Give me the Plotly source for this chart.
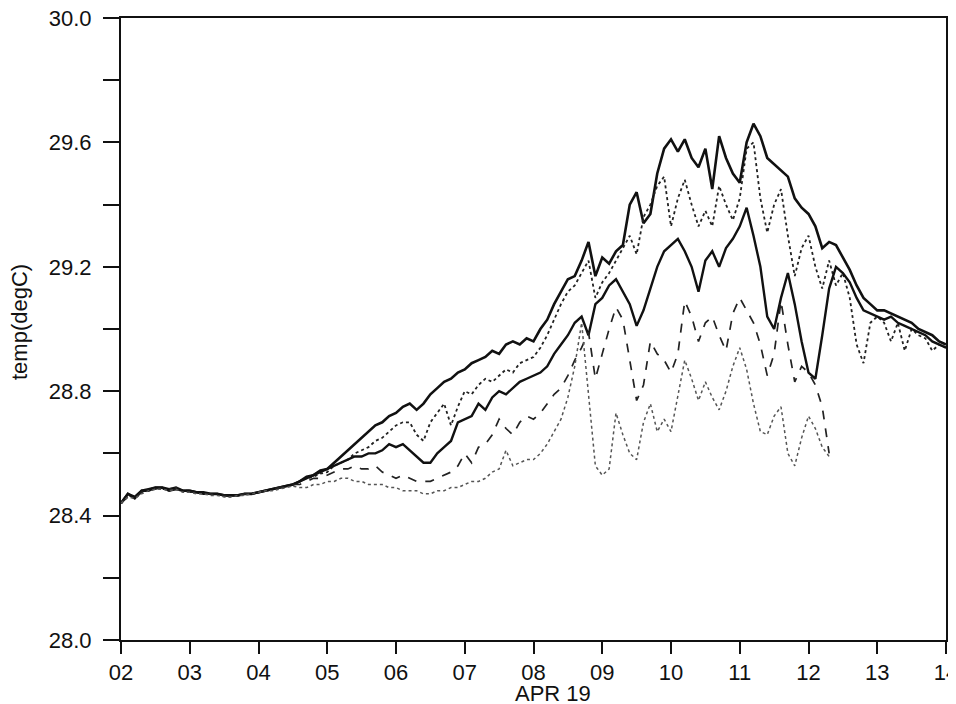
import plotly.graph_objects as go

# time samples (day of April), every 0.1 day
days = [2.0, 2.1, 2.2, 2.3, 2.4, 2.5, 2.6, 2.7, 2.8, 2.9,
        3.0, 3.1, 3.2, 3.3, 3.4, 3.5, 3.6, 3.7, 3.8, 3.9,
        4.0, 4.1, 4.2, 4.3, 4.4, 4.5, 4.6, 4.7, 4.8, 4.9,
        5.0, 5.1, 5.2, 5.3, 5.4, 5.5, 5.6, 5.7, 5.8, 5.9,
        6.0, 6.1, 6.2, 6.3, 6.4, 6.5, 6.6, 6.7, 6.8, 6.9,
        7.0, 7.1, 7.2, 7.3, 7.4, 7.5, 7.6, 7.7, 7.8, 7.9,
        8.0, 8.1, 8.2, 8.3, 8.4, 8.5, 8.6, 8.7, 8.8, 8.9,
        9.0, 9.1, 9.2, 9.3, 9.4, 9.5, 9.6, 9.7, 9.8, 9.9,
        10.0, 10.1, 10.2, 10.3, 10.4, 10.5, 10.6, 10.7, 10.8, 10.9,
        11.0, 11.1, 11.2, 11.3, 11.4, 11.5, 11.6, 11.7, 11.8, 11.9,
        12.0, 12.1, 12.2, 12.3, 12.4, 12.5, 12.6, 12.7, 12.8, 12.9,
        13.0, 13.1, 13.2, 13.3, 13.4, 13.5, 13.6, 13.7, 13.8, 13.9,
        14.0]

temp_1 = [28.44, 28.47, 28.46, 28.48, 28.485, 28.49, 28.49, 28.485, 28.49, 28.48,
          28.48, 28.475, 28.475, 28.47, 28.47, 28.465, 28.465, 28.465, 28.47, 28.47,
          28.475, 28.48, 28.485, 28.49, 28.495, 28.50, 28.51, 28.525, 28.53, 28.545,
          28.55, 28.57, 28.59, 28.61, 28.63, 28.65, 28.67, 28.69, 28.70, 28.72,
          28.73, 28.75, 28.76, 28.74, 28.76, 28.79, 28.81, 28.83, 28.84, 28.86,
          28.87, 28.89, 28.90, 28.91, 28.93, 28.92, 28.95, 28.96, 28.95, 28.97,
          28.96, 29.00, 29.03, 29.08, 29.12, 29.16, 29.17, 29.22, 29.28, 29.17,
          29.23, 29.21, 29.25, 29.27, 29.40, 29.44, 29.34, 29.37, 29.50, 29.58,
          29.61, 29.57, 29.61, 29.55, 29.52, 29.58, 29.45, 29.62, 29.55, 29.50,
          29.47, 29.60, 29.66, 29.62, 29.55, 29.53, 29.51, 29.49, 29.42, 29.39,
          29.37, 29.33, 29.26, 29.28, 29.27, 29.23, 29.19, 29.14, 29.10, 29.08,
          29.06, 29.06, 29.05, 29.04, 29.03, 29.02, 29.00, 28.99, 28.98, 28.96,
          28.95]

temp_2 = [28.44, 28.465, 28.46, 28.475, 28.485, 28.49, 28.485, 28.485, 28.49, 28.48,
          28.48, 28.475, 28.47, 28.47, 28.47, 28.465, 28.465, 28.465, 28.47, 28.47,
          28.475, 28.48, 28.485, 28.49, 28.495, 28.50, 28.51, 28.52, 28.525, 28.535,
          28.54, 28.56, 28.57, 28.58, 28.60, 28.61, 28.62, 28.64, 28.65, 28.67,
          28.69, 28.70, 28.70, 28.66, 28.64, 28.70, 28.73, 28.76, 28.69, 28.75,
          28.80, 28.79, 28.82, 28.84, 28.83, 28.85, 28.87, 28.86, 28.89, 28.90,
          28.91, 28.94, 28.98, 29.03, 29.08, 29.12, 29.14, 29.18, 29.22, 29.10,
          29.15, 29.18, 29.22, 29.26, 29.30, 29.24, 29.36, 29.40, 29.46, 29.49,
          29.33, 29.42, 29.48, 29.40, 29.33, 29.38, 29.33, 29.46, 29.40, 29.35,
          29.42, 29.58, 29.60, 29.42, 29.31, 29.40, 29.45, 29.30, 29.17, 29.26,
          29.30, 29.20, 29.13, 29.22, 29.14, 29.18, 29.10, 28.95, 28.89, 29.02,
          29.04, 29.02, 28.96, 29.02, 28.93, 29.00, 28.98, 28.97, 28.93, 28.95,
          28.94]

temp_3 = [28.44, 28.47, 28.455, 28.48, 28.48, 28.49, 28.49, 28.48, 28.485, 28.48,
          28.48, 28.475, 28.47, 28.47, 28.47, 28.465, 28.465, 28.465, 28.47, 28.47,
          28.475, 28.48, 28.485, 28.49, 28.495, 28.50, 28.51, 28.52, 28.53, 28.54,
          28.55, 28.56, 28.57, 28.58, 28.59, 28.59, 28.60, 28.60, 28.61, 28.63,
          28.62, 28.63, 28.61, 28.59, 28.57, 28.57, 28.60, 28.62, 28.64, 28.70,
          28.71, 28.72, 28.76, 28.74, 28.78, 28.80, 28.79, 28.81, 28.83, 28.84,
          28.85, 28.86, 28.88, 28.92, 28.95, 28.98, 29.02, 29.04, 28.98, 29.08,
          29.10, 29.14, 29.16, 29.12, 29.08, 29.01, 29.06, 29.13, 29.20, 29.25,
          29.27, 29.29, 29.25, 29.20, 29.12, 29.22, 29.25, 29.20, 29.26, 29.29,
          29.33, 29.39, 29.30, 29.20, 29.04, 29.00, 29.10, 29.18, 29.08, 28.96,
          28.86, 28.84, 28.98, 29.13, 29.20, 29.18, 29.15, 29.10, 29.06, 29.05,
          29.04, 29.03, 29.04, 29.02, 29.01, 29.00, 28.99, 28.98, 28.96, 28.95,
          28.94]

temp_4 = [28.44, 28.46, 28.455, 28.475, 28.48, 28.485, 28.49, 28.48, 28.485, 28.48,
          28.475, 28.475, 28.47, 28.47, 28.465, 28.465, 28.46, 28.465, 28.47, 28.47,
          28.475, 28.48, 28.485, 28.49, 28.495, 28.50, 28.50, 28.51, 28.52, 28.52,
          28.53, 28.54, 28.55, 28.55, 28.56, 28.55, 28.55, 28.56, 28.54, 28.53,
          28.52, 28.53, 28.52, 28.51, 28.51, 28.51, 28.52, 28.53, 28.54, 28.56,
          28.60, 28.57, 28.62, 28.63, 28.66, 28.71, 28.68, 28.66, 28.70, 28.72,
          28.71, 28.73, 28.76, 28.79, 28.81, 28.85, 28.90, 28.94, 28.99, 28.84,
          28.92, 29.00, 29.07, 29.03, 28.90, 28.77, 28.82, 28.96, 28.92, 28.90,
          28.86, 28.92, 29.09, 29.04, 28.96, 29.02, 29.04, 28.98, 28.93, 29.05,
          29.10, 29.06, 29.02, 28.95, 28.85, 28.92, 29.09, 28.95, 28.83, 28.88,
          28.86, 28.82, 28.75, 28.60]

temp_5 = [28.44, 28.46, 28.455, 28.47, 28.48, 28.485, 28.485, 28.48, 28.485, 28.475,
          28.475, 28.47, 28.47, 28.465, 28.465, 28.46, 28.46, 28.465, 28.465, 28.47,
          28.475, 28.48, 28.48, 28.485, 28.49, 28.495, 28.49, 28.49, 28.50, 28.50,
          28.51, 28.51, 28.52, 28.52, 28.51, 28.51, 28.50, 28.50, 28.50, 28.49,
          28.49, 28.48, 28.48, 28.48, 28.47, 28.47, 28.48, 28.48, 28.49, 28.49,
          28.50, 28.51, 28.51, 28.52, 28.54, 28.55, 28.61, 28.56, 28.57, 28.58,
          28.58, 28.60, 28.63, 28.67, 28.71, 28.78, 28.88, 29.02, 28.80, 28.56,
          28.53, 28.55, 28.73, 28.66, 28.60, 28.58, 28.70, 28.76, 28.67, 28.71,
          28.67, 28.78, 28.90, 28.84, 28.77, 28.83, 28.78, 28.74, 28.80, 28.88,
          28.94, 28.87, 28.76, 28.67, 28.66, 28.72, 28.75, 28.60, 28.56, 28.65,
          28.72, 28.68, 28.62, 28.59]

y_tick_vals = [28.0, 28.2, 28.4, 28.6, 28.8, 29.0, 29.2, 29.4, 29.6, 29.8, 30.0]
y_tick_text = ["28.0", "", "28.4", "", "28.8", "", "29.2", "", "29.6", "", "30.0"]
x_tick_vals = [2, 3, 4, 5, 6, 7, 8, 9, 10, 11, 12, 13, 14]
x_tick_text = ["02", "03", "04", "05", "06", "07", "08", "09", "10", "11", "12", "13", "14"]
x_title = "APR 19"
y_title = "temp(degC)"

series = [
    (temp_1, dict(color="#111111", width=2.6, dash="solid")),
    (temp_2, dict(color="#222222", width=1.8, dash="dot")),
    (temp_3, dict(color="#111111", width=2.4, dash="solid")),
    (temp_4, dict(color="#222222", width=1.7, dash="dash")),
    (temp_5, dict(color="#555555", width=1.5, dash="dot")),
]

fig = go.Figure()
for vals, style in series:
    fig.add_trace(go.Scatter(x=days[:len(vals)], y=vals, mode="lines",
                             line=style, showlegend=False, hoverinfo="skip"))

# the page body has an 8px margin: figure is sized so the plot box lands at
# window pixels x 121..946, y 18..640
FONT = "Liberation Sans, Arial, Helvetica, sans-serif"
fig.update_layout(
    width=956, height=696,
    margin=dict(l=113, r=18, t=10, b=64, autoexpand=False),
    paper_bgcolor="white", plot_bgcolor="white",
    font=dict(family=FONT, size=22, color="#111111"),
    showlegend=False,
)
fig.update_xaxes(
    range=[2, 14], tickvals=x_tick_vals, ticktext=x_tick_text,
    showgrid=False, zeroline=False, automargin=False,
    showline=True, linecolor="#111111", linewidth=2, mirror=True,
    ticks="outside", ticklen=12, tickwidth=2, tickcolor="#111111",
    tickfont=dict(size=22), ticklabeloverflow="allow",
)
fig.update_yaxes(
    range=[28.0, 30.0], tickvals=y_tick_vals, ticktext=y_tick_text,
    showgrid=False, zeroline=False, automargin=False,
    showline=True, linecolor="#111111", linewidth=2, mirror="ticks",
    ticks="outside", ticklen=16, tickwidth=2, tickcolor="#111111",
    tickfont=dict(size=22), ticklabelstandoff=7, ticklabeloverflow="allow",
)
fig.add_annotation(text=x_title, xref="paper", yref="paper",
                   x=(553 - 121) / 825, y=(640 - 693) / 622,
                   xanchor="center", yanchor="middle", showarrow=False,
                   font=dict(size=22, family=FONT))
fig.add_annotation(text=y_title, xref="paper", yref="paper",
                   x=(19 - 121) / 825, y=(640 - 322) / 622, textangle=-90,
                   xanchor="center", yanchor="middle", showarrow=False,
                   font=dict(size=22, family=FONT))

fig.write_html("out.html")
